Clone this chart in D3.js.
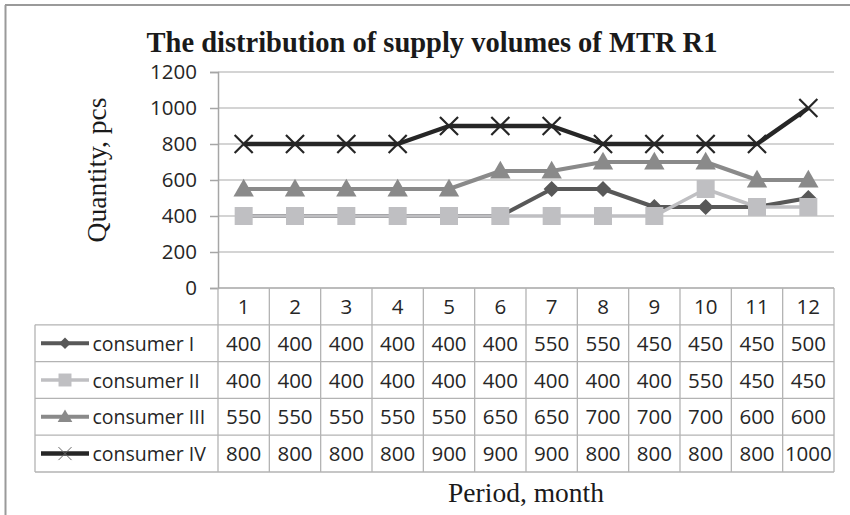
<!DOCTYPE html>
<html>
<head>
<meta charset="utf-8">
<script src="https://cdn.jsdelivr.net/npm/d3@7"></script>
<style>
body { margin: 0; background: #fff; }
svg { display: block; }
.serif { font-family: "Liberation Serif", "Times New Roman", serif; fill: #1a1a1a; }
.sans { font-family: "Open Sans", "Noto Sans", sans-serif; fill: #262626; }
</style>
</head>
<body>
<svg id="chart" width="850" height="515"></svg>
<script>
var months = [1, 2, 3, 4, 5, 6, 7, 8, 9, 10, 11, 12];
var consumerI = [400, 400, 400, 400, 400, 400, 550, 550, 450, 450, 450, 500];
var consumerII = [400, 400, 400, 400, 400, 400, 400, 400, 400, 550, 450, 450];
var consumerIII = [550, 550, 550, 550, 550, 650, 650, 700, 700, 700, 600, 600];
var consumerIV = [800, 800, 800, 800, 900, 900, 900, 800, 800, 800, 800, 1000];
var seriesNames = ["consumer I", "consumer II", "consumer III", "consumer IV"];
var yTicks = [0, 200, 400, 600, 800, 1000, 1200];

var series = [
	{ name: seriesNames[0], values: consumerI, color: "#585858", width: 4, marker: "diamond" },
	{ name: seriesNames[1], values: consumerII, color: "#bfbfc2", width: 3.5, marker: "square" },
	{ name: seriesNames[2], values: consumerIII, color: "#8a8a8a", width: 4, marker: "triangle" },
	{ name: seriesNames[3], values: consumerIV, color: "#262626", width: 4.5, marker: "cross" }
];

var plotLeft = 218, plotRight = 834, plotTop = 72, plotBottom = 288;
var tableLeft = 35, tableBottom = 472;
var fs = 20.5;

var svg = d3.select("#chart");

// outer frame (only top and left edges visible)
svg.append("line").attr("x1", 5).attr("x2", 850).attr("y1", 5).attr("y2", 5)
	.attr("stroke", "#9a9a9a").attr("stroke-width", 2);
svg.append("line").attr("x1", 5.5).attr("x2", 5.5).attr("y1", 5).attr("y2", 515)
	.attr("stroke", "#9a9a9a").attr("stroke-width", 2);

var x = d3.scaleBand().domain(months).range([plotLeft, plotRight]);
var y = d3.scaleLinear().domain([0, 1200]).range([plotBottom, plotTop]);
var rows = d3.scaleBand().domain(["head"].concat(seriesNames)).range([plotBottom, tableBottom]);

// gridlines
svg.append("g").selectAll("line").data(yTicks).join("line")
	.attr("x1", plotLeft).attr("x2", plotRight)
	.attr("y1", function(d) { return y(d); }).attr("y2", function(d) { return y(d); })
	.attr("stroke", function(d) { return d === 0 ? "#a6a6a6" : "#c6c6c6"; })
	.attr("stroke-width", 1.6);

// y axis
var yAxis = d3.axisLeft(y).tickValues(yTicks).tickSize(8).tickPadding(13).tickFormat(d3.format("d"));
var ga = svg.append("g").attr("transform", "translate(" + plotLeft + ",0)").call(yAxis);
ga.select(".domain").attr("stroke", "#a6a6a6").attr("stroke-width", 1.5);
ga.selectAll(".tick line").attr("stroke", "#a6a6a6").attr("stroke-width", 1.5);
ga.selectAll(".tick text").attr("class", "sans").attr("font-size", fs).attr("fill", "#262626");

// data table
var grid = svg.append("g").attr("stroke", "#b3b3b3").attr("stroke-width", 1.3);
grid.selectAll("line.v").data(months.concat([13])).join("line")
	.attr("x1", function(d) { return d === 13 ? plotRight : x(d); })
	.attr("x2", function(d) { return d === 13 ? plotRight : x(d); })
	.attr("y1", plotBottom).attr("y2", tableBottom);
grid.append("line").attr("x1", tableLeft).attr("x2", tableLeft)
	.attr("y1", rows(seriesNames[0])).attr("y2", tableBottom);
grid.selectAll("line.h").data(seriesNames.concat(["end"])).join("line")
	.attr("x1", tableLeft).attr("x2", plotRight)
	.attr("y1", function(d) { return d === "end" ? tableBottom : rows(d); })
	.attr("y2", function(d) { return d === "end" ? tableBottom : rows(d); });

svg.append("g").selectAll("text").data(months).join("text")
	.attr("class", "sans").attr("font-size", fs).attr("text-anchor", "middle")
	.attr("x", function(d) { return x(d) + x.bandwidth() / 2; })
	.attr("y", rows("head") + rows.bandwidth() / 2 + 7.5)
	.text(function(d) { return d; });

var markerSym = {
	diamond: d3.symbol(d3.symbolSquare, 130),
	square: d3.symbol(d3.symbolSquare, 324),
	triangle: d3.symbol(d3.symbolTriangle, 180),
	cross: d3.symbol(d3.symbolX, 215)
};

function drawMarker(g, s, cx, cy, k, legend) {
	var t = "translate(" + cx + "," + cy + ") scale(" + k + ")";
	if (s.marker === "diamond") t += " rotate(45)";
	if (s.marker === "triangle") t += " translate(0,1.5)";
	var p = g.append("path").attr("d", markerSym[s.marker]()).attr("transform", t);
	if (s.marker === "cross") {
		p.attr("fill", "none").attr("stroke", legend ? "#666" : s.color)
			.attr("stroke-width", (legend ? 1 : 2.2) / k);
	} else {
		p.attr("fill", s.color);
	}
}

series.forEach(function(s) {
	var ry = rows(s.name) + rows.bandwidth() / 2;
	var lg = svg.append("g");
	lg.append("line").attr("x1", 41).attr("x2", 89).attr("y1", ry).attr("y2", ry)
		.attr("stroke", s.color).attr("stroke-width", s.width);
	drawMarker(lg, s, 65, ry, 0.72, true);
	lg.append("text").attr("class", "sans").attr("font-size", 19.5)
		.attr("x", 92.5).attr("y", ry + 7.5).text(s.name);
	svg.append("g").selectAll("text").data(s.values).join("text")
		.attr("class", "sans").attr("font-size", fs).attr("text-anchor", "middle")
		.attr("x", function(d, i) { return x(months[i]) + x.bandwidth() / 2; })
		.attr("y", ry + 7.5)
		.text(function(d) { return d; });
});

// lines and markers
var line = d3.line()
	.x(function(d, i) { return x(months[i]) + x.bandwidth() / 2; })
	.y(function(d) { return y(d); });

series.forEach(function(s) {
	var g = svg.append("g");
	g.append("path").attr("d", line(s.values)).attr("fill", "none")
		.attr("stroke", s.color).attr("stroke-width", s.width).attr("stroke-linejoin", "round");
	s.values.forEach(function(v, i) {
		drawMarker(g, s, x(months[i]) + x.bandwidth() / 2, y(v), 1, false);
	});
});

// titles
svg.append("text").attr("class", "serif").attr("font-size", 28.5).attr("font-weight", "bold")
	.attr("text-anchor", "middle").attr("x", 432).attr("y", 52)
	.text("The distribution of supply volumes of MTR R1");
svg.append("text").attr("class", "serif").attr("font-size", 27.5)
	.attr("text-anchor", "middle").attr("x", (plotLeft + plotRight) / 2).attr("y", 502)
	.text("Period, month");
svg.append("text").attr("class", "serif").attr("font-size", 27.5)
	.attr("text-anchor", "middle")
	.attr("transform", "translate(106,170) rotate(-90)")
	.text("Quantity, pcs");
</script>
</body>
</html>
